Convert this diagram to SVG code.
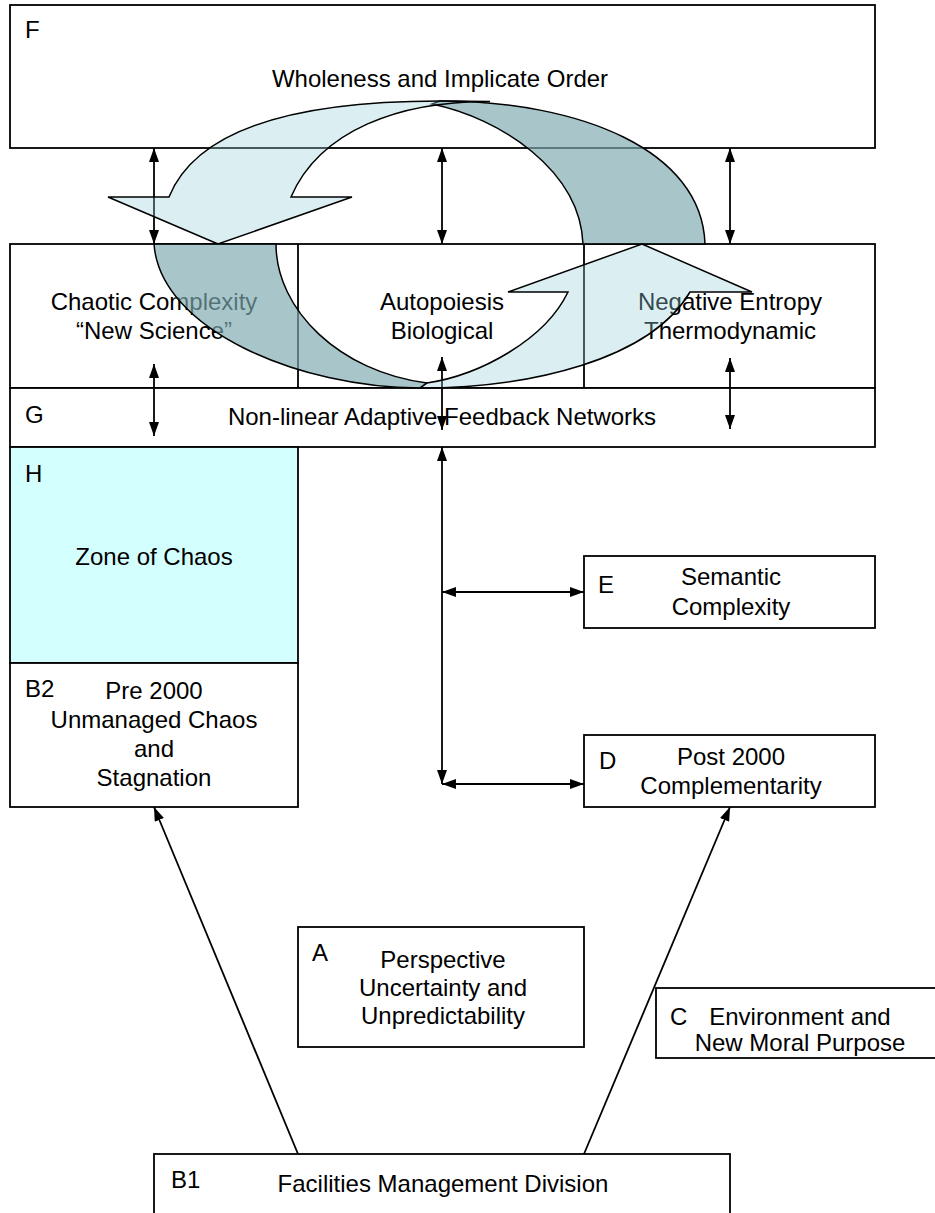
<svg xmlns="http://www.w3.org/2000/svg" width="935" height="1213" viewBox="0 0 935 1213">
<defs>
<marker id="ah" viewBox="0 0 14 10" refX="14" refY="5" markerWidth="14" markerHeight="10" markerUnits="userSpaceOnUse" orient="auto-start-reverse">
<path d="M0,0 L14,5 L0,10 Z" fill="#000"/>
</marker>
</defs>
<style>
.box{fill:#fff;stroke:#000;stroke-width:1.8}
.zone{fill:#D4FFFF;stroke:#000;stroke-width:1.8}
text{font-family:"Liberation Sans",Arial,sans-serif;font-size:24px;fill:#000}
.c{text-anchor:middle}
.con{stroke:#000;stroke-width:1.8;fill:none}
.dbl{marker-start:url(#ah);marker-end:url(#ah)}
.one{marker-end:url(#ah)}
.lt{fill:rgb(152,209,218);fill-opacity:0.35;stroke:#000;stroke-width:1.5}
.dk{fill:rgb(126,170,176);fill-opacity:0.67;stroke:#000;stroke-width:1.5}
</style>
<g id="F">
<rect class="box" x="10" y="5" width="865" height="143"/>
<text x="25" y="38">F</text>
<text class="c" x="440" y="87">Wholeness and Implicate Order</text>
</g>
<g id="row">
<rect class="box" x="10" y="244" width="865" height="144"/>
<line class="con" x1="298" y1="244" x2="298" y2="388"/>
<line class="con" x1="584" y1="244" x2="584" y2="388"/>
<text class="c" x="154" y="310">Chaotic Complexity</text>
<text class="c" x="154" y="339">“New Science”</text>
<text class="c" x="442" y="310">Autopoiesis</text>
<text class="c" x="442" y="339">Biological</text>
<text class="c" x="730" y="310">Negative Entropy</text>
<text class="c" x="730" y="339">Thermodynamic</text>
</g>
<g id="G">
<rect class="box" x="10" y="388" width="865" height="59"/>
<text x="25" y="423">G</text>
<text class="c" x="442" y="425">Non-linear Adaptive Feedback Networks</text>
</g>
<g id="H">
<rect class="zone" x="10" y="447" width="288" height="216"/>
<text x="25" y="482">H</text>
<text class="c" x="154" y="565">Zone of Chaos</text>
</g>
<g id="B2">
<rect class="box" x="10" y="663" width="288" height="144"/>
<text x="25" y="697">B2</text>
<text class="c" x="154" y="699">Pre 2000</text>
<text class="c" x="154" y="728">Unmanaged Chaos</text>
<text class="c" x="154" y="757">and</text>
<text class="c" x="154" y="786">Stagnation</text>
</g>
<g id="E">
<rect class="box" x="584" y="556" width="291" height="72"/>
<text x="598" y="593">E</text>
<text class="c" x="731" y="585">Semantic</text>
<text class="c" x="731" y="615">Complexity</text>
</g>
<g id="D">
<rect class="box" x="584" y="735" width="291" height="72"/>
<text x="599" y="769">D</text>
<text class="c" x="731" y="765">Post 2000</text>
<text class="c" x="731" y="794">Complementarity</text>
</g>
<g id="A">
<rect class="box" x="298" y="927" width="286" height="120"/>
<text x="312" y="961">A</text>
<text class="c" x="443" y="968">Perspective</text>
<text class="c" x="443" y="996">Uncertainty and</text>
<text class="c" x="443" y="1024">Unpredictability</text>
</g>
<g id="C">
<rect class="box" x="656" y="988" width="290" height="70"/>
<text x="670" y="1025">C</text>
<text class="c" x="800" y="1025">Environment and</text>
<text class="c" x="800" y="1051">New Moral Purpose</text>
</g>
<g id="B1">
<rect class="box" x="154" y="1154" width="576" height="70"/>
<text x="171" y="1188">B1</text>
<text class="c" x="443" y="1192">Facilities Management Division</text>
</g>
<g id="connectors">
<line class="con dbl" x1="154" y1="148" x2="154" y2="244"/>
<line class="con dbl" x1="442" y1="148" x2="442" y2="244"/>
<line class="con dbl" x1="730" y1="148" x2="730" y2="244"/>
<line class="con dbl" x1="154" y1="364" x2="154" y2="436"/>
<line class="con dbl" x1="442" y1="357" x2="442" y2="430"/>
<line class="con dbl" x1="730" y1="358" x2="730" y2="429"/>
<line class="con dbl" x1="442" y1="447" x2="442" y2="784"/>
<line class="con dbl" x1="442" y1="592" x2="584" y2="592"/>
<line class="con dbl" x1="442" y1="784" x2="584" y2="784"/>
<line class="con one" x1="298" y1="1154" x2="154" y2="807"/>
<line class="con one" x1="584" y1="1154" x2="730" y2="807"/>
</g>
<g id="cycle">
<path class="dk" d="M432,104 C500,118 580,170 583,244 L705,244 C702,150 580,101 440,101 Z"/>
<path class="lt" d="M218,244 L108,197 L169,197 C200,120 320,101 440,101 L490,101.5 C400,101 320,130 291,197 L352,197 Z"/>
<path class="dk" d="M154,244 L276,244 C276,310 340,372 427,383 L420,388 C300,388 160,330 154,244 Z"/>
<path class="lt" d="M642,244 L752,292 L690,292 C650,360 530,388 420,388 L427,383 C480,375 545,340 568,292 L508,292 Z"/>
</g>
</svg>
